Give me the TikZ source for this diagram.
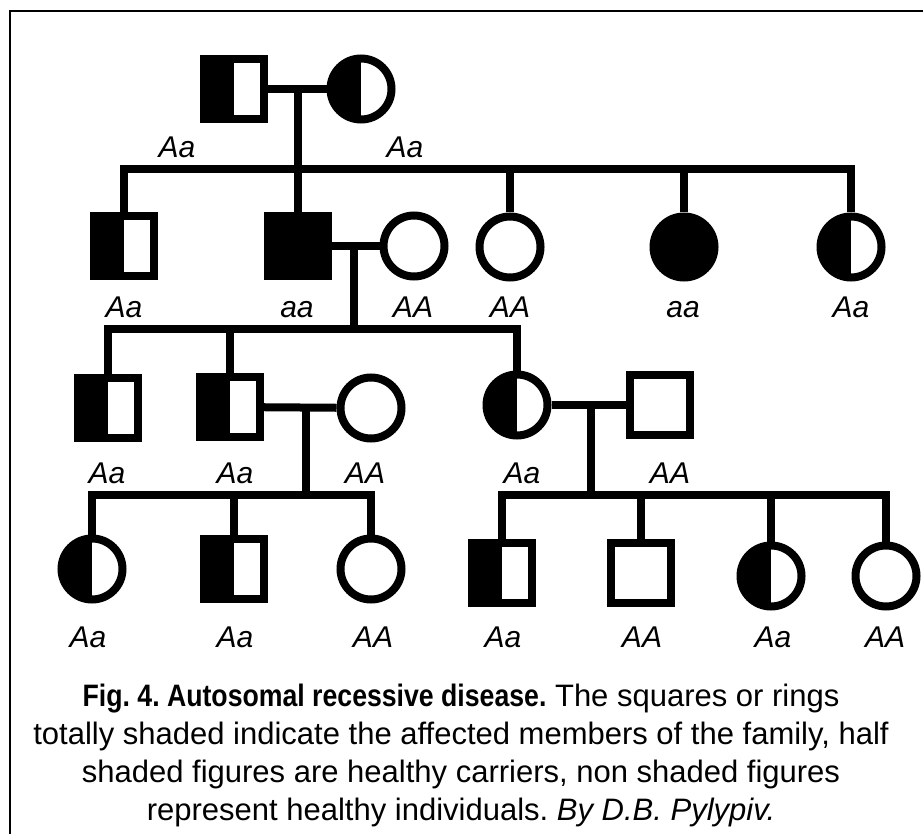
\documentclass[tikz,border=0pt]{standalone}
\usepackage{fontspec}
\setmainfont{Liberation Sans}
\begin{document}
\frenchspacing
\begin{tikzpicture}[x=1pt,y=-1pt,
  person/.style={draw, line width=8pt, inner sep=0pt},
  male/.style={person, rectangle, minimum size=60pt},
  female/.style={person, circle, minimum size=61pt},
  affected/.style={fill=black},
  carrier/.style={path picture={\fill[black] (path picture bounding box.south west) rectangle (path picture bounding box.north);}},
  link/.style={line width=8pt, line join=miter},
  geno/.style={font=\itshape\fontsize{30}{32}\selectfont, inner sep=0pt, anchor=base},
  frame/.style={line width=2pt}
]
\useasboundingbox (0,0) rectangle (923,834);
\draw[frame] (10,834) -- (10,11) -- (923,11);

% generation I
\node[male, carrier]   (I1) at (234,89) {};
\node[female, carrier] (I2) at (361,89) {};
% generation II
\node[male, carrier]     (II1) at (124,246) {};
\node[male, affected]    (II2) at (298,246) {};
\node[female]            (II3) at (414,246) {};
\node[female]            (II4) at (510,247) {};
\node[female, affected]  (II5) at (684,247) {};
\node[female, carrier]   (II6) at (851,247) {};
% generation III
\node[male, carrier]     (III1) at (108,408) {};
\node[male, carrier]     (III2) at (230,407) {};
\node[female]            (III3) at (371,408) {};
\node[female, carrier]   (III4) at (517,405) {};
\node[male]              (III5) at (660,405) {};
% generation IV
\node[female, carrier]   (IV1) at (92,569) {};
\node[male, carrier]     (IV2) at (234,569) {};
\node[female]            (IV3) at (371,569) {};
\node[male, carrier]     (IV4) at (502,573) {};
\node[male]              (IV5) at (641,573) {};
\node[female, carrier]   (IV6) at (771,576) {};
\node[female]            (IV7) at (886,576) {};

% couples and their descent points
\coordinate (m1) at (298,89);
\coordinate (m2) at (354,246);
\coordinate (m3) at (306,407);
\coordinate (m4) at (591,407);
% sibling bars
\coordinate (b1) at (500,169);
\coordinate (b2) at (300,329);
\coordinate (b3) at (200,495);
\coordinate (b4) at (700,495);

\draw[link] (I1) -- (I2);
\draw[link] (m1) -- (m1 |- b1);
\draw[link] (II1.north) |- (b1) -| (II6.north);
\foreach \c in {II2,II4,II5} \draw[link] (\c.north) -- (\c.north |- b1);

\draw[link] (II2) -- (II3);
\draw[link] (m2) -- (m2 |- b2);
\draw[link] (III1.north) |- (b2) -| (III4.north);
\draw[link] (III2.north) -- (III2.north |- b2);

\draw[link] (III2) -- (III3);
\draw[link] (m3) -- (m3 |- b3);
\draw[link] (IV1.north) |- (b3) -| (IV3.north);
\draw[link] (IV2.north) -- (IV2.north |- b3);

\draw[link] (III4) -- (III5);
\draw[link] (m4) -- (m4 |- b4);
\draw[link] (IV4.north) |- (b4) -| (IV7.north);
\foreach \c in {IV5,IV6} \draw[link] (\c.north) -- (\c.north |- b4);

% genotypes
\node[geno] (gI1) at (177,158) {Aa};
\node[geno] (gI2) at (405,158) {Aa};
\node[geno] (gII1) at (124,317) {Aa};
\node[geno] (gII2) at (297,317) {aa};
\node[geno] (gII3) at (413,317) {AA};
\node[geno] (gII4) at (510,317) {AA};
\node[geno] (gII5) at (683,317) {aa};
\node[geno] (gII6) at (851,317) {Aa};
\node[geno] (gIII1) at (107,483) {Aa};
\node[geno] (gIII2) at (235,483) {Aa};
\node[geno] (gIII3) at (365,483) {AA};
\node[geno] (gIII4) at (522,483) {Aa};
\node[geno] (gIII5) at (670,483) {AA};
\node[geno] (gIV1) at (88,647) {Aa};
\node[geno] (gIV2) at (235,647) {Aa};
\node[geno] (gIV3) at (373,647) {AA};
\node[geno] (gIV4) at (503,647) {Aa};
\node[geno] (gIV5) at (642,647) {AA};
\node[geno] (gIV6) at (773,647) {Aa};
\node[geno] (gIV7) at (885,647) {AA};

% caption (the bold title is set slightly condensed)
\node[align=center, inner sep=0pt, font=\fontsize{31}{38}\selectfont] (cap) at (461,755)
 {\scalebox{0.86}[1]{\textbf{Fig. 4. Autosomal recessive disease.}} The squares or rings\\
  totally shaded indicate the affected members of the family, half\\
  shaded figures are healthy carriers, non shaded figures\\
  represent healthy individuals. \textit{By D.B. Pylypiv.}};
\end{tikzpicture}
\end{document}
